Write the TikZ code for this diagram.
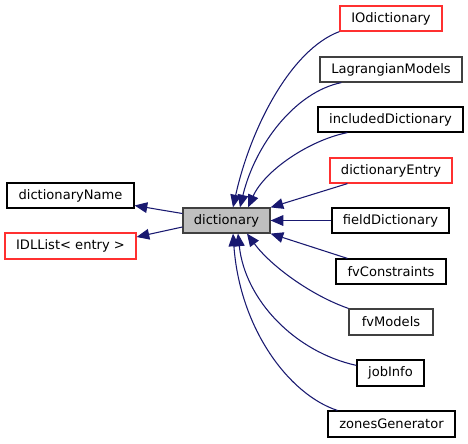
\documentclass[tikz,border=0pt]{standalone}
\usepackage{fontspec}
\setmainfont{DejaVu Sans}
\usetikzlibrary{arrows.meta,calc}
\definecolor{edgeblue}{HTML}{191970}
\definecolor{boxgray}{HTML}{404040}
\definecolor{boxred}{HTML}{FF3030}
\definecolor{fillgray}{HTML}{BFBFBF}
\tikzset{
  cls/.style={draw=black, line width=0.9pt, fill=white, inner sep=0pt, minimum height=25*0.75pt, font=\fontsize{9.8}{12}\selectfont},
  clsgray/.style={cls, draw=boxgray},
  clsred/.style={cls, draw=boxred},
  cur/.style={cls, draw=boxgray, fill=fillgray},
  edge/.style={draw=edgeblue, line width=0.8pt, -{Triangle[length=9.5pt,width=8pt]}, fill=none},
}
\begin{document}
\begin{tikzpicture}[x=0.75pt,y=-0.75pt]
\useasboundingbox (0,0) rectangle (468,443);
% nodes
\node[clsred,  minimum width=102*0.75pt] (io)    at (391,18.5)  {IOdictionary};
\node[clsgray, minimum width=142*0.75pt] (lag)   at (391,69.5)  {LagrangianModels};
\node[cls,     minimum width=145*0.75pt] (inc)   at (390.5,119.5) {includedDictionary};
\node[clsred,  minimum width=122*0.75pt] (dent)  at (391,170.5) {dictionaryEntry};
\node[cls,     minimum width=117*0.75pt] (fld)   at (390.5,220.5) {fieldDictionary};
\node[cls,     minimum width=110*0.75pt] (fvc)   at (391,271.5) {fvConstraints};
\node[clsgray, minimum width=84*0.75pt, minimum height=26*0.75pt]  (fvm)   at (391,322)   {fvModels};
\node[cls,     minimum width=67*0.75pt, minimum height=26*0.75pt]  (job)   at (390.5,373) {jobInfo};
\node[cls,     minimum width=127*0.75pt, minimum height=26*0.75pt] (zones) at (391.5,424) {zonesGenerator};
\node[cls,     minimum width=127*0.75pt] (dname) at (70.5,195.5) {dictionaryName};
\node[clsred,  minimum width=131*0.75pt, minimum height=26*0.75pt] (idl)   at (70.5,246) {IDLList< entry >};
\node[cur,     minimum width=87*0.75pt]  (dict)  at (226.5,220.5) {dictionary};
% edges to base classes
\draw[edge] ($(dict.west)+(0,-7)$) -- ($(dname.east)+(0,10)$);
\draw[edge] ($(dict.west)+(0,6.5)$) -- ($(idl.east)+(0,-9)$);
% edges from derived classes
\draw[edge] (io.south west) .. controls (290,50) and (250,130) .. ($(dict.north)+(6.5,0)$);
\draw[edge] ($(lag.south west)+(22,0)$) .. controls (295,92) and (255,145) .. ($(dict.north)+(13.5,0)$);
\draw[edge] ($(inc.south west)+(30,0)$) .. controls (310,140) and (265,170) .. ($(dict.north)+(21.5,0)$);
\draw[edge] ($(dent.south west)+(18,0)$) -- (dict.north east);
\draw[edge] (fld.west) -- (dict.east);
\draw[edge] ($(fvc.north west)+(12,0)$) -- (dict.south east);
\draw[edge] (fvm.north west) .. controls (310,295) and (270,265) .. ($(dict.south)+(20.5,0)$);
\draw[edge] ($(job.north west)+(0,6)$) .. controls (295,352) and (245,300) .. ($(dict.south)+(11.5,0)$);
\draw[edge] ($(zones.north west)+(10,0)$) .. controls (290,395) and (240,330) .. ($(dict.south)+(6.5,0)$);
\end{tikzpicture}
\end{document}
